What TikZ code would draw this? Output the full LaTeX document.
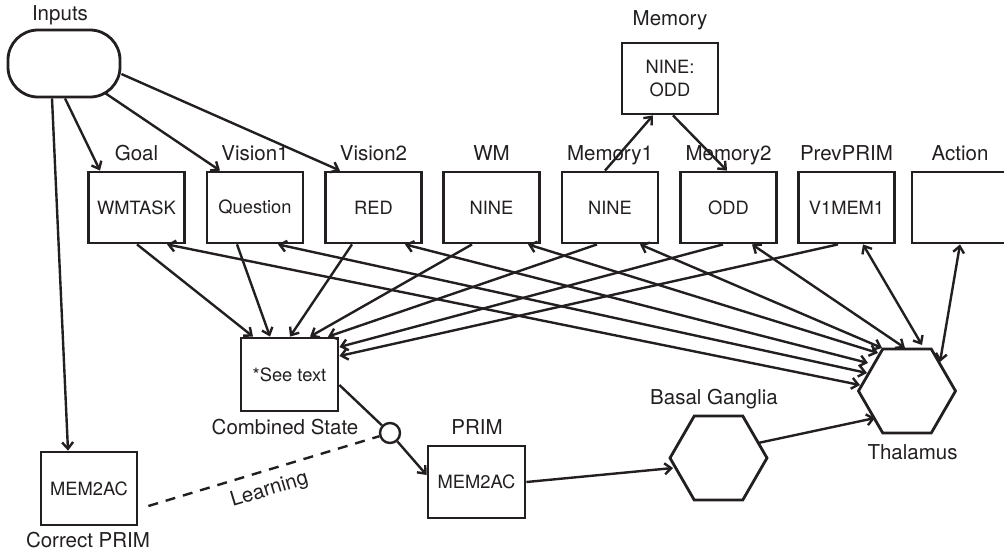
\documentclass[tikz,border=0pt]{standalone}
\usepackage{fontspec}
\setmainfont{TeX Gyre Heros}
\usetikzlibrary{arrows.meta,shapes.geometric}
\definecolor{ink}{RGB}{35,31,32}
\begin{document}
\begin{tikzpicture}[x=1pt,y=-1pt,
  every node/.style={text=ink},
  unit/.style={draw=ink, line width=2.8pt, minimum width=96pt, minimum height=71pt,
    inner sep=0pt, font=\fontsize{18.3}{23}\selectfont, align=center},
  tag/.style={anchor=base, inner sep=0pt, font=\fontsize{20.5}{24}\selectfont},
  hexa/.style={draw=ink, line width=2.8pt, regular polygon, regular polygon sides=6,
    minimum size=97pt, inner sep=0pt},
  barb/.tip={Straight Barb[length=6.5pt,width=11pt]},
  link/.style={draw=ink, line width=2.4pt, -barb},
  twoway/.style={draw=ink, line width=2.4pt, barb-barb},
]
\useasboundingbox (0,0) rectangle (1004,555);

% input source
\node[draw=ink, line width=2.8pt, rounded corners=30pt, minimum width=112pt,
  minimum height=67pt] (inputs) at (64,63.5) {};
\node[tag] (inputsTag) at (60,20) {Inputs};

% declarative memory
\node[unit] (memory) at (670,78.5) {NINE:\\ODD};
\node[tag] (memoryTag) at (670,25) {Memory};

% buffers
\node[unit] (goal)     at (136.5,207.5) {WMTASK};
\node[unit] (vision1)  at (255,207.5)   {Question};
\node[unit] (vision2)  at (373.5,207.5) {RED};
\node[unit] (wm)       at (491.5,207.5) {NINE};
\node[unit] (memory1)  at (610,207.5)   {NINE};
\node[unit] (memory2)  at (728.5,207.5) {ODD};
\node[unit] (prevprim) at (846.5,207.5) {V1MEM1};
\node[unit] (action)   at (960,207.5)   {};
\node[tag] (goalTag)     at (136.5,160) {Goal};
\node[tag] (vision1Tag)  at (255,160)   {Vision1};
\node[tag] (vision2Tag)  at (373.5,160) {Vision2};
\node[tag] (wmTag)       at (491.5,160) {WM};
\node[tag] (memory1Tag)  at (610,160)   {Memory1};
\node[tag] (memory2Tag)  at (728.5,160) {Memory2};
\node[tag] (prevprimTag) at (846.5,160) {PrevPRIM};
\node[tag] (actionTag)   at (960,160)   {Action};

% state, primitives, learning
\node[unit, minimum width=97pt, minimum height=73pt] (combined) at (289.5,374.5) {*See text};
\node[tag] (combinedTag) at (285,434) {Combined State};
\node[unit, minimum width=97pt, minimum height=72pt] (prim) at (476.5,482) {MEM2AC};
\node[tag] (primTag) at (477,434) {PRIM};
\node[unit, minimum height=73pt] (correct) at (89,488.5) {MEM2AC};
\node[tag] (correctTag) at (88,547) {Correct PRIM};
\node[draw=ink, line width=2.4pt, circle, minimum size=20pt, inner sep=0pt] (gate) at (390,433) {};

% subcortical nuclei
\node[hexa] (basal) at (718.5,458) {};
\node[tag] (basalTag) at (714,404) {Basal Ganglia};
\node[hexa] (thalamus) at (907,391) {};
\node[tag] (thalamusTag) at (912.5,459) {Thalamus};

% inputs to buffers
\draw[link] ([shift={(1,0)}]inputs.south) -- ([shift={(-36.5,0)}]goal.north);
\draw[link] ([shift={(41,29.5)}]inputs.center) -- ([shift={(-35,0)}]vision1.north);
\draw[link] ([shift={(0,10.5)}]inputs.east) -- ([shift={(-33.5,0)}]vision2.north);
\draw[link] ([shift={(-12,0)}]inputs.south) -- ([shift={(-21,0)}]correct.north);

% memory retrieval
\draw[link] ([shift={(-5,0)}]memory1.north) -- ([shift={(-17,0)}]memory.south);
\draw[link] ([shift={(3,0)}]memory.south) -- ([shift={(-1.5,0)}]memory2.north);

% buffers to combined state
\draw[link] ([shift={(0.5,0)}]goal.south) -- ([shift={(-36.5,0)}]combined.north);
\draw[link] ([shift={(-18,0)}]vision1.south) -- ([shift={(-19.5,0)}]combined.north);
\draw[link] ([shift={(-21.5,0)}]vision2.south) -- ([shift={(0.5,0)}]combined.north);
\draw[link] ([shift={(-19.5,0)}]wm.south) -- ([shift={(20.5,0)}]combined.north);
\draw[link] ([shift={(-13,0)}]memory1.south) -- ([shift={(38.5,0)}]combined.north);
\draw[link] ([shift={(-5.5,0)}]memory2.south) -- ([shift={(0,-27.5)}]combined.east);
\draw[link] ([shift={(-8.5,0)}]prevprim.south) -- ([shift={(0,-18.5)}]combined.east);

% thalamic routing
\draw[twoway] ([shift={(30.5,0)}]goal.south) -- ([shift={(-47,-6)}]thalamus.center);
\draw[twoway] ([shift={(23,0)}]vision1.south) -- ([shift={(-40,-18)}]thalamus.center);
\draw[twoway] ([shift={(31.5,0)}]vision2.south) -- ([shift={(-39,-28)}]thalamus.center);
\draw[twoway] ([shift={(36.5,0)}]wm.south) -- ([shift={(-29,-38)}]thalamus.center);
\draw[twoway] ([shift={(30,0)}]memory1.south) -- ([shift={(-25,-43)}]thalamus.center);
\draw[twoway] ([shift={(23.5,0)}]memory2.south) -- ([shift={(-2,-43)}]thalamus.center);
\draw[twoway] ([shift={(16.5,0)}]prevprim.south) -- ([shift={(15,-46)}]thalamus.center);
\draw[twoway] (action.south) -- ([shift={(33,-29)}]thalamus.center);

% selection pathway
\draw[draw=ink, line width=2.4pt] ([shift={(0,10.5)}]combined.east) -- (gate);
\draw[link] (gate) -- ([shift={(0,-7)}]prim.west);
\draw[link] (prim.east) -- ([shift={(-45.5,10)}]basal.center);
\draw[link] ([shift={(39.5,-15)}]basal.center) -- ([shift={(-32,27)}]thalamus.center);

% learning signal
\draw[draw=ink, line width=2.4pt, dash pattern=on 10pt off 8pt]
  ([shift={(10,17.5)}]correct.east) -- (gate)
  node[midway, sloped, below=9pt, inner sep=0pt, font=\fontsize{20.5}{24}\selectfont] (learnTag) {Learning};
\end{tikzpicture}
\end{document}
